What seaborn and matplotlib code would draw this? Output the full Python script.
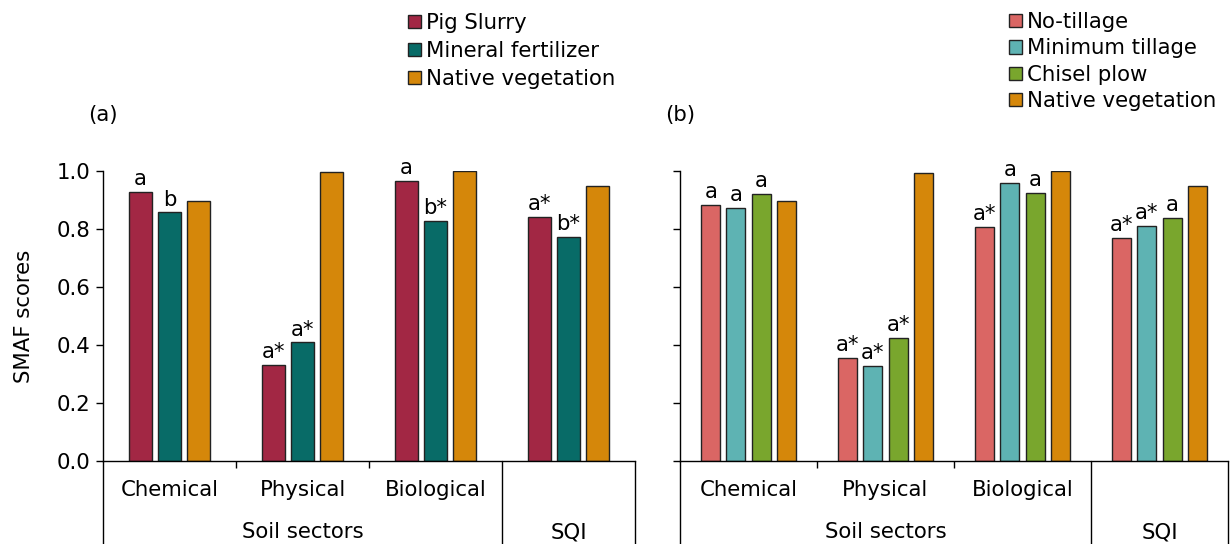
import matplotlib
matplotlib.use("Agg")
import matplotlib.pyplot as plt
import seaborn as sns
import pandas as pd

# ---------------- data ----------------
sectors = ["Chemical", "Physical", "Biological", "SQI"]
tick_labels = ["Chemical", "Physical", "Biological", ""]

a_series = ["Pig Slurry", "Mineral fertilizer", "Native vegetation"]
a_pig = [0.928, 0.331, 0.966, 0.842]
a_min = [0.857, 0.409, 0.829, 0.772]
a_nat = [0.898, 0.995, 1.000, 0.947]
a_letters_pig = ["a", "a*", "a", "a*"]
a_letters_min = ["b", "a*", "b*", "b*"]
a_letters_nat = ["", "", "", ""]

b_series = ["No-tillage", "Minimum tillage", "Chisel plow", "Native vegetation"]
b_nt = [0.884, 0.356, 0.806, 0.770]
b_mt = [0.872, 0.327, 0.960, 0.811]
b_cp = [0.921, 0.424, 0.925, 0.839]
b_nat = [0.898, 0.994, 0.999, 0.948]
b_letters_nt = ["a", "a*", "a*", "a*"]
b_letters_mt = ["a", "a*", "a", "a*"]
b_letters_cp = ["a", "a*", "a", "a"]
b_letters_nat = ["", "", "", ""]

a_colors = ["#A22744", "#086B67", "#D5870A"]
b_colors = ["#DA6664", "#5EB3B3", "#79A62D", "#D5870A"]

yticks = [0.0, 0.2, 0.4, 0.6, 0.8, 1.0]

# ---------------- style ----------------
sns.set_style("ticks")
FS = 15.3
plt.rcParams["font.family"] = ["DejaVu Sans"]
plt.rcParams["font.size"] = FS
for k in ["text.color", "axes.labelcolor", "xtick.color", "ytick.color", "axes.edgecolor"]:
    plt.rcParams[k] = "black"

fig = plt.figure(figsize=(12.31, 5.44), dpi=100)
W, H = 1231, 544
axA = fig.add_axes([103 / W, 1 - 461 / H, 532 / W, 290 / H])
axB = fig.add_axes([680 / W, 1 - 461 / H, 548 / W, 290 / H])


def make_df(series, values):
    rows = []
    for s, vals in zip(series, values):
        for sec, v in zip(sectors, vals):
            rows.append({"sector": sec, "treatment": s, "score": v})
    return pd.DataFrame(rows)


dfA = make_df(a_series, [a_pig, a_min, a_nat])
dfB = make_df(b_series, [b_nt, b_mt, b_cp, b_nat])


def draw(ax, df, series, colors, letters, width, gap, show_ylabels, leg_anchor, labelspacing):
    sns.barplot(data=df, x="sector", y="score", hue="treatment",
                order=sectors, hue_order=series, palette=colors,
                width=width, gap=gap, edgecolor="#222222", linewidth=1.0,
                saturation=1.0, errorbar=None, ax=ax)
    ax.set_xlim(-0.5, 3.5)
    ax.set_ylim(0, 1.0)
    ax.set_yticks(yticks)
    if show_ylabels:
        ax.set_yticklabels([f"{t:.1f}" for t in yticks], fontsize=FS, color="black")
        ax.set_ylabel("SMAF scores", fontsize=FS, color="black")
        ax.yaxis.set_label_coords(-0.13, 0.5)
    else:
        ax.set_yticklabels([])
        ax.set_ylabel("")
    ax.tick_params(axis="y", direction="out", length=5, width=1, pad=4,
                   color="black", labelcolor="black")
    ax.set_xlabel("")
    ax.set_xticks(range(len(sectors)))
    ax.set_xticklabels(tick_labels, fontsize=FS, color="black")
    ax.tick_params(axis="x", which="major", length=0, pad=14, labelcolor="black")
    ax.set_xticks([0.5, 1.5], minor=True)
    ax.tick_params(axis="x", which="minor", direction="out", length=5, width=1, color="black")
    for sp in ["top", "right"]:
        ax.spines[sp].set_visible(False)
    for sp in ["left", "bottom"]:
        ax.spines[sp].set_color("black")
        ax.spines[sp].set_linewidth(1.0)

    # letters
    for cont, labs in zip(ax.containers, letters):
        for patch, lab in zip(cont.patches, labs):
            if lab:
                ax.annotate(lab, (patch.get_x() + patch.get_width() / 2, patch.get_height()),
                            xytext=(0, 2), textcoords="offset points", color="black",
                            ha="center", va="bottom", fontsize=FS, annotation_clip=False)

    # hierarchical x-axis frame lines
    tr = ax.get_xaxis_transform()
    for xv in [-0.5, 2.5, 3.5]:
        ax.plot([xv, xv], [0, -0.35], transform=tr, color="black", lw=1.0, clip_on=False)
    ax.text(1.0, -0.245, "Soil sectors", transform=tr, ha="center", va="center",
            fontsize=FS, color="black")
    ax.text(3.0, -0.245, "SQI", transform=tr, ha="center", va="center",
            fontsize=FS, color="black")

    # legend
    handles, labels = ax.get_legend_handles_labels()
    if ax.get_legend() is not None:
        ax.get_legend().remove()
    leg = ax.legend(handles, labels, loc="upper left", bbox_to_anchor=leg_anchor,
                    bbox_transform=fig.transFigure, frameon=False, fontsize=FS,
                    handlelength=0.6, handleheight=0.6, handletextpad=0.25,
                    labelspacing=labelspacing, borderpad=0, borderaxespad=0)
    for t in leg.get_texts():
        t.set_color("black")


draw(axA, dfA, a_series, a_colors, [a_letters_pig, a_letters_min, a_letters_nat],
     0.65, 0.2, True, (408 / W, 1 - 13 / H), 0.38)
draw(axB, dfB, b_series, b_colors, [b_letters_nt, b_letters_mt, b_letters_cp, b_letters_nat],
     0.73, 0.24, False, (1009 / W, 1 - 12 / H), 0.3)

fig.text(103 / W, 1 - 115 / H, "(a)", ha="center", va="center", fontsize=FS, color="black")
fig.text(680 / W, 1 - 115 / H, "(b)", ha="center", va="center", fontsize=FS, color="black")

fig.savefig("out.png", dpi=100)
